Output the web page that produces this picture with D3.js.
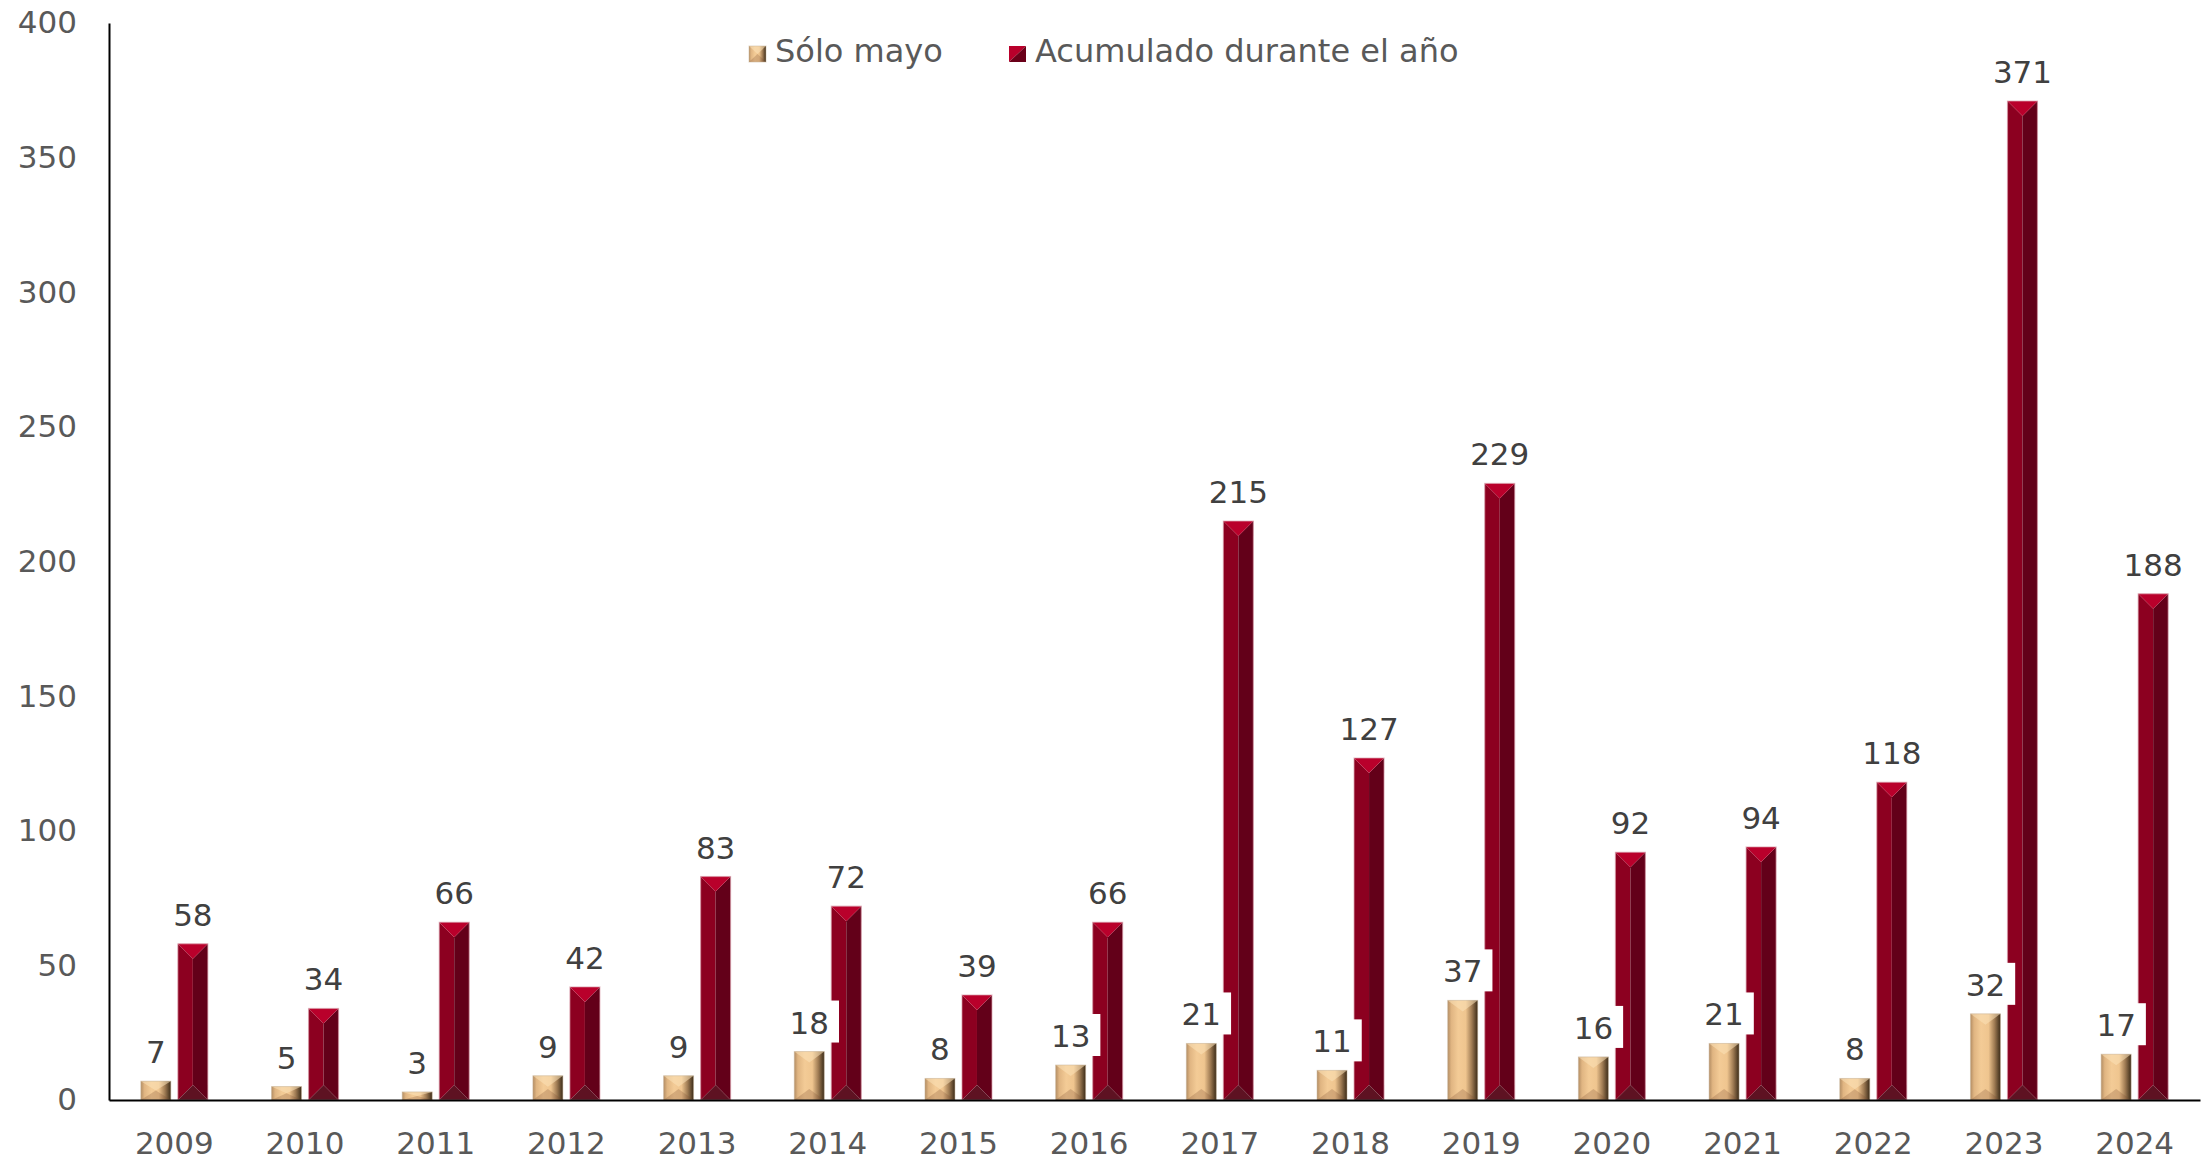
<!DOCTYPE html>
<html>
<head>
<meta charset="utf-8">
<script src="https://cdn.jsdelivr.net/npm/d3@7"></script>
<style>
  body { margin: 0; background: #fff; }
  text { font-family: "DejaVu Sans", Verdana, sans-serif; }
</style>
</head>
<body>
<script>
// data
var years = ["2009","2010","2011","2012","2013","2014","2015","2016",
             "2017","2018","2019","2020","2021","2022","2023","2024"];
var soloMayo = [7, 5, 3, 9, 9, 18, 8, 13, 21, 11, 37, 16, 21, 8, 32, 17];
var acumulado = [58, 34, 66, 42, 83, 72, 39, 66, 215, 127, 229, 92, 94, 118, 371, 188];
var seriesNames = ["Sólo mayo", "Acumulado durante el año"];
var yTicks = [0, 50, 100, 150, 200, 250, 300, 350, 400];

var width = 2209, height = 1160;
var mLeft = 109, mRight = 2200, mTop = 23, mBottom = 1100;

var svg = d3.select("body").append("svg")
    .attr("width", width)
    .attr("height", height);

var defs = svg.append("defs");
var gold = defs.append("linearGradient").attr("id", "goldGrad")
    .attr("x1", "0%").attr("x2", "100%").attr("y1", "0%").attr("y2", "0%");
[[0, "#b38d63"], [0.12, "#e0b582"], [0.35, "#f3cb96"], [0.6, "#efc58f"],
 [0.8, "#a07c54"], [1, "#3b2b18"]].forEach(function(s){
    gold.append("stop").attr("offset", s[0]).attr("stop-color", s[1]);
});

var x = d3.scaleBand().domain(years).range([mLeft, mRight]).padding(0);
var x1 = d3.scaleBand().domain(seriesNames)
    .range([x.bandwidth() / 2 - 33.5, x.bandwidth() / 2 + 33.5])
    .paddingInner(0.19);
var y = d3.scaleLinear().domain([0, 400]).range([mBottom, mTop]);

var rows = years.map(function(yr, i){
    return { year: yr, values: [
        { key: seriesNames[0], v: soloMayo[i] },
        { key: seriesNames[1], v: acumulado[i] }
    ]};
});

// bevelled bar faces
function faces(x0, y0, w, h, depth){
    var xr = x0 + w, y1 = y0 + h, xm = x0 + w / 2;
    var d = Math.min(depth, h / 2);
    return {
        left: [[x0, y0], [xm, y0 + d], [xm, y1 - d], [x0, y1]],
        right: [[xr, y0], [xm, y0 + d], [xm, y1 - d], [xr, y1]],
        top: [[x0, y0], [xr, y0], [xm, y0 + d]],
        bottom: [[x0, y1], [xr, y1], [xm, y1 - d]]
    };
}
function pts(a){ return a.map(function(p){ return p.join(","); }).join(" "); }

function drawRed(g, x0, y0, w, h){
    var f = faces(x0, y0, w, h, w / 2);
    g.append("polygon").attr("points", pts(f.left)).attr("fill", "#8c0020");
    g.append("polygon").attr("points", pts(f.right)).attr("fill", "#630019");
    g.append("polygon").attr("points", pts(f.top)).attr("fill", "#b9002b");
    g.append("polygon").attr("points", pts(f.bottom)).attr("fill", "#5e1222");
    g.append("rect").attr("x", x0).attr("y", y0).attr("width", w).attr("height", h)
        .attr("fill", "none").attr("stroke", "#d79aa6").attr("stroke-opacity", 0.6)
        .attr("stroke-width", 1.2);
}
function drawGold(g, x0, y0, w, h){
    var f = faces(x0, y0, w, h, 11);
    g.append("rect").attr("x", x0).attr("y", y0).attr("width", w).attr("height", h)
        .attr("fill", "url(#goldGrad)");
    g.append("polygon").attr("points", pts(f.top)).attr("fill", "#fbe1b8").attr("fill-opacity", 0.55);
    g.append("polygon").attr("points", pts(f.bottom)).attr("fill", "#7a4a30").attr("fill-opacity", 0.25);
    g.append("rect").attr("x", x0).attr("y", y0).attr("width", w).attr("height", h)
        .attr("fill", "none").attr("stroke", "#c8b49a").attr("stroke-opacity", 0.5)
        .attr("stroke-width", 1);
}

// bars
var bars = svg.append("g");
rows.forEach(function(r){
    r.values.forEach(function(d, j){
        var bx = x(r.year) + x1(d.key), bw = x1.bandwidth();
        var g = bars.append("g");
        if (j === 0) drawGold(g, bx, y(d.v), bw, y(0) - y(d.v));
        else drawRed(g, bx, y(d.v), bw, y(0) - y(d.v));
    });
});

// axes
var yAxis = svg.append("g")
    .attr("transform", "translate(" + mLeft + ",0)")
    .call(d3.axisLeft(y).tickValues(yTicks).tickSize(0).tickSizeOuter(0).tickPadding(32));
yAxis.select(".domain").attr("stroke", "#000").attr("stroke-width", 2);
yAxis.selectAll("text").attr("font-size", 31).attr("fill", "#595959")
    .style("font-family", "'DejaVu Sans', Verdana, sans-serif");

var xAxis = svg.append("g")
    .attr("transform", "translate(0," + mBottom + ")")
    .call(d3.axisBottom(x).tickSize(0).tickSizeOuter(0).tickPadding(32));
xAxis.select(".domain").attr("stroke", "#000").attr("stroke-width", 2);
xAxis.selectAll("text").attr("font-size", 31).attr("fill", "#595959")
    .style("font-family", "'DejaVu Sans', Verdana, sans-serif");

// value labels with white boxes
var labels = svg.append("g");
rows.forEach(function(r){
    r.values.forEach(function(d){
        var cx = x(r.year) + x1(d.key) + x1.bandwidth() / 2;
        var base = y(d.v) - 18;
        var box = labels.append("rect").attr("fill", "#fff");
        var t = labels.append("text")
            .attr("x", cx).attr("y", base)
            .attr("text-anchor", "middle")
            .attr("font-size", 31)
            .attr("fill", "#404040")
            .text(d.v);
        var tw = t.node().getComputedTextLength();
        box.attr("x", cx - tw / 2 - 10).attr("y", base - 33)
            .attr("width", tw + 20).attr("height", 42);
    });
});

// legend
var legend = svg.append("g");
var legendPos = [749, 1009];
seriesNames.forEach(function(name, i){
    var g = legend.append("g");
    if (i === 0) {
        drawGold(g, legendPos[i], 46, 17, 16);
    } else {
        g.append("polygon").attr("points", pts([[legendPos[i], 46], [legendPos[i] + 17, 46], [legendPos[i], 62]]))
            .attr("fill", "#b9002b");
        g.append("polygon").attr("points", pts([[legendPos[i] + 17, 46], [legendPos[i] + 17, 62], [legendPos[i], 62]]))
            .attr("fill", "#6a0019");
    }
    g.append("text")
        .attr("x", legendPos[i] + 26).attr("y", 62)
        .attr("font-size", 32)
        .attr("fill", "#595959")
        .text(name);
});
</script>
</body>
</html>
